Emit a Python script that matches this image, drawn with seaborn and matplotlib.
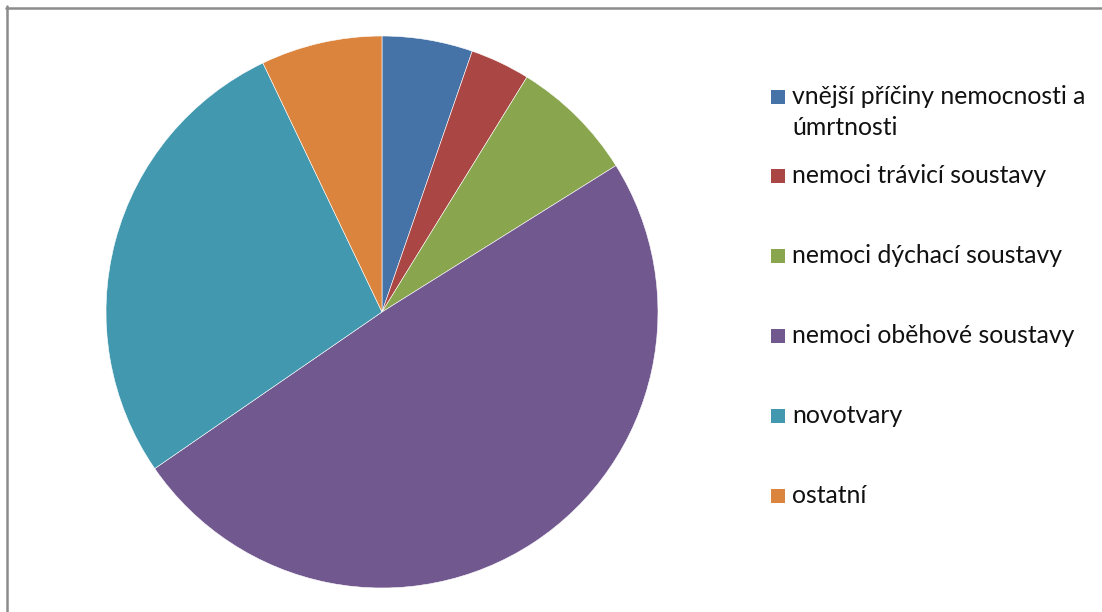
import matplotlib
matplotlib.use("Agg")
import matplotlib.pyplot as plt
import seaborn as sns
from matplotlib.patches import Rectangle
from matplotlib.lines import Line2D

categories = ["vnější příčiny nemocnosti a\númrtnosti",
              "nemoci trávicí soustavy",
              "nemoci dýchací soustavy",
              "nemoci oběhové soustavy",
              "novotvary",
              "ostatní"]
values = [5.3, 3.5, 7.3, 49.3, 27.5, 7.1]
colors = ["#4572A7", "#AA4643", "#89A54E", "#71588F", "#4198AF", "#DB843D"]

sns.set_theme(style="white")
plt.rcParams['font.family'] = ['Lato', 'DejaVu Sans']

W, H = 1102, 612
fig = plt.figure(figsize=(W / 100, H / 100), dpi=100)
fig.patch.set_facecolor("white")

cx, cy, r = 382, 312, 276
ax = fig.add_axes([(cx - r) / W, (H - (cy + r)) / H, 2 * r / W, 2 * r / H])
ax.pie(values, colors=sns.color_palette(colors), startangle=90, counterclock=False,
       radius=1.0, wedgeprops=dict(edgecolor="white", linewidth=0.4))
ax.set_xlim(-1, 1)
ax.set_ylim(-1, 1)
ax.set_aspect("equal")
ax.axis("off")

# chart border (top and left visible)
fig.add_artist(Line2D([7 / W, 7 / W], [0, 1 - 6 / H], transform=fig.transFigure,
                      color="#8c8c8c", lw=1.8))
fig.add_artist(Line2D([6 / W, 1.0], [1 - 7.5 / H, 1 - 7.5 / H], transform=fig.transFigure,
                      color="#8c8c8c", lw=1.8))

# legend
centers = [97, 176, 256, 336, 416, 496]
sq = 14
fs = 17.8
for lab, col, yc in zip(categories, colors, centers):
    fig.add_artist(Rectangle((771 / W, (H - yc - sq / 2) / H), sq / W, sq / H,
                             transform=fig.transFigure, facecolor=col, edgecolor="none"))
    for i, line in enumerate(lab.split("\n")):
        fig.text(792 / W, (H - yc - 7 - i * 31) / H, line, fontsize=fs, color="#111111",
                 va="baseline", ha="left")

fig.savefig("out.png", dpi=100)
